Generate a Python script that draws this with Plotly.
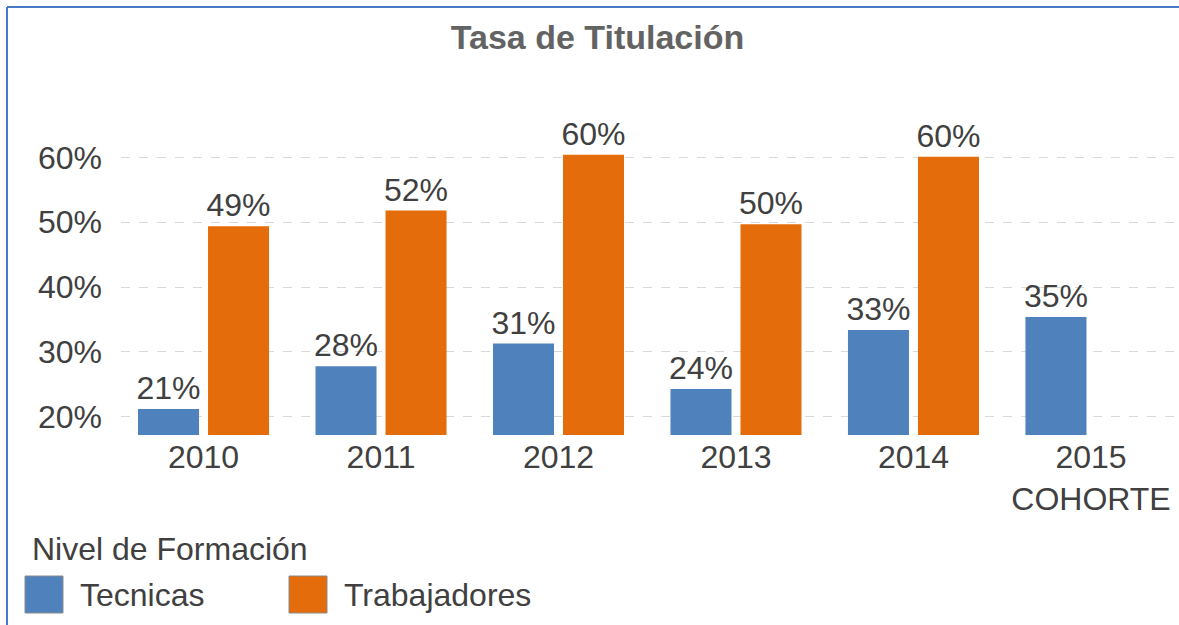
import plotly.graph_objects as go

# ---- data ----
years = ["2010", "2011", "2012", "2013", "2014", "2015<br>COHORTE"]
tecnicas = [0.212, 0.278, 0.313, 0.243, 0.334, 0.354]
trabajadores = [0.494, 0.518, 0.604, 0.497, 0.601, None]
series_names = ["Tecnicas", "Trabajadores"]
y_ticks = [0.2, 0.3, 0.4, 0.5, 0.6]
title_text = "Tasa de Titulación"
legend_title = "Nivel de Formación"

# ---- style ----
W, H = 1179, 625
ML, MR, MT, MB = 121, 0, 125, 190
BLUE = "#4F81BD"
ORANGE = "#E46C0A"
TXT = "#404040"
FONT = "Arial, Liberation Sans, sans-serif"
FS = 32

plot_w = W - ML - MR
plot_h = H - MT - MB


def px_x(px):
    return (px - ML) / plot_w


def px_y(py):
    return (H - MB - py) / plot_h


fig = go.Figure()
for name, vals, col in [(series_names[0], tecnicas, BLUE),
                        (series_names[1], trabajadores, ORANGE)]:
    fig.add_trace(go.Bar(
        x=years, y=vals, name=name,
        marker=dict(color=col, line=dict(width=0)),
        texttemplate="%{y:.0%}", textposition="outside",
        constraintext="none", cliponaxis=False,
        textfont=dict(family=FONT, size=FS, color=TXT),
        showlegend=False,
    ))

fig.update_layout(
    width=W, height=H,
    margin=dict(l=ML, r=MR, t=MT, b=MB),
    paper_bgcolor="white", plot_bgcolor="white",
    barmode="group", bargap=0.211, bargroupgap=0.1286,
    font=dict(family=FONT, size=FS, color=TXT),
    title=dict(text="<b>" + title_text + "</b>", xref="container", x=597.5 / W,
               xanchor="center", y=1 - 37 / H, yanchor="middle",
               font=dict(family=FONT, size=34, color="#636363")),
    xaxis=dict(type="category", range=[-0.465, 5.496], showgrid=False,
               showline=False, zeroline=False, ticks="",
               tickfont=dict(size=FS, color=TXT)),
    yaxis=dict(range=[0.172, 0.65], tickvals=y_ticks, tickformat=".0%",
               showgrid=True, gridcolor="#d9d9d9", gridwidth=1, griddash="dash",
               zeroline=False, showline=False, ticks="",
               ticklabelstandoff=18,
               tickfont=dict(size=FS, color=TXT)),
)

# border (top and left edges of the chart frame)
fig.add_shape(type="line", xref="paper", yref="paper",
              x0=px_x(7), x1=px_x(W + 5), y0=px_y(7), y1=px_y(7),
              line=dict(color="#4A78C8", width=2))
fig.add_shape(type="line", xref="paper", yref="paper",
              x0=px_x(7), x1=px_x(7), y0=px_y(7), y1=px_y(H + 5),
              line=dict(color="#4A78C8", width=2))

# legend (drawn manually to match the large swatches)
fig.add_annotation(text=legend_title, xref="paper", yref="paper",
                   x=px_x(30), y=px_y(549), xanchor="left", yanchor="middle",
                   showarrow=False, font=dict(size=FS, color=TXT))
for name, col, sx, tx in [(series_names[0], BLUE, 25, 78),
                          (series_names[1], ORANGE, 289, 342)]:
    fig.add_shape(type="rect", xref="paper", yref="paper",
                  x0=px_x(sx), x1=px_x(sx + 38), y0=px_y(576), y1=px_y(613),
                  fillcolor=col, line=dict(color="#8a8a8a", width=1))
    fig.add_annotation(text=name, xref="paper", yref="paper",
                       x=px_x(tx), y=px_y(595), xanchor="left", yanchor="middle",
                       showarrow=False, font=dict(size=FS, color=TXT))

fig.write_html("out.html",
               config={"displayModeBar": False},
               post_script="document.body.style.margin='0';"
                           "document.body.style.overflow='hidden';")
